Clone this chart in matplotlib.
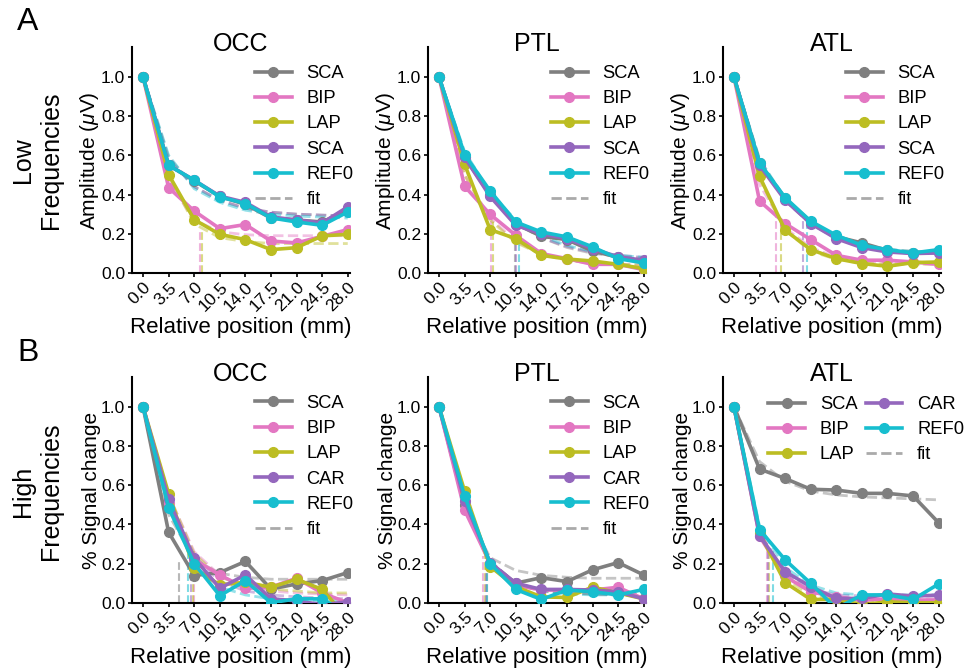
import numpy as np
import matplotlib
matplotlib.use("Agg")
import matplotlib.pyplot as plt

plt.rcParams['font.family'] = ['Liberation Sans', 'DejaVu Sans']
plt.rcParams['mathtext.fontset'] = 'custom'
plt.rcParams['mathtext.rm'] = 'Liberation Sans'
plt.rcParams['mathtext.it'] = 'Liberation Sans:italic'

positions = [0.0, 3.5, 7.0, 10.5, 14.0, 17.5, 21.0, 24.5, 28.0]
tick_labels = ["0.0", "3.5", "7.0", "10.5", "14.0", "17.5", "21.0", "24.5", "28.0"]
regions = ["OCC", "PTL", "ATL"]
labels_low = ["SCA", "BIP", "LAP", "SCA", "REF0"]
labels_high = ["SCA", "BIP", "LAP", "CAR", "REF0"]
colors = ["#7f7f7f", "#e377c2", "#bcbd22", "#9467bd", "#17becf"]

# rows: SCA, BIP, LAP, SCA/CAR, REF0
occ_low = [[1, 0.55, 0.47, 0.39, 0.35, 0.28, 0.27, 0.26, 0.32],
           [1, 0.435, 0.316, 0.226, 0.247, 0.163, 0.153, 0.187, 0.221],
           [1, 0.502, 0.272, 0.197, 0.17, 0.119, 0.129, 0.189, 0.197],
           [1, 0.55, 0.473, 0.392, 0.36, 0.286, 0.27, 0.255, 0.337],
           [1, 0.549, 0.473, 0.388, 0.354, 0.281, 0.26, 0.243, 0.311]]
occ_low_fit = [[1, 0.59, 0.44, 0.37, 0.33, 0.31, 0.30, 0.295, 0.29],
               [1, 0.47, 0.27, 0.21, 0.195, 0.19, 0.19, 0.19, 0.19],
               [1, 0.50, 0.25, 0.18, 0.16, 0.15, 0.15, 0.15, 0.15],
               [1, 0.58, 0.44, 0.37, 0.33, 0.31, 0.30, 0.295, 0.29],
               [1, 0.60, 0.43, 0.36, 0.32, 0.30, 0.29, 0.285, 0.28]]
occ_low_vx = [np.nan, 7.85, 8.1, np.nan, np.nan]
occ_low_vtop = [0, 0.22, 0.21, 0, 0]

ptl_low = [[1, 0.59, 0.40, 0.25, 0.187, 0.17, 0.112, 0.08, 0.06],
           [1, 0.442, 0.299, 0.192, 0.099, 0.073, 0.044, 0.044, 0.017],
           [1, 0.554, 0.221, 0.175, 0.09, 0.071, 0.061, 0.044, 0.022],
           [1, 0.59, 0.39, 0.243, 0.2, 0.175, 0.124, 0.082, 0.065],
           [1, 0.604, 0.418, 0.26, 0.209, 0.184, 0.133, 0.073, 0.051]]
ptl_low_fit = [[1, 0.61, 0.39, 0.26, 0.18, 0.13, 0.10, 0.085, 0.075],
               [1, 0.50, 0.28, 0.16, 0.10, 0.065, 0.05, 0.045, 0.04],
               [1, 0.50, 0.27, 0.155, 0.095, 0.065, 0.05, 0.045, 0.04],
               [1, 0.60, 0.39, 0.255, 0.18, 0.135, 0.105, 0.09, 0.08],
               [1, 0.62, 0.41, 0.27, 0.19, 0.14, 0.11, 0.09, 0.08]]
ptl_low_vx = [10.4, 7.1, 7.35, 10.6, 11.0]
ptl_low_vtop = [0.24, 0.28, 0.26, 0.245, 0.24]

atl_low = [[1, 0.56, 0.38, 0.26, 0.185, 0.153, 0.115, 0.10, 0.11],
           [1, 0.367, 0.252, 0.17, 0.09, 0.065, 0.065, 0.056, 0.044],
           [1, 0.493, 0.218, 0.119, 0.073, 0.048, 0.034, 0.053, 0.056],
           [1, 0.549, 0.371, 0.252, 0.175, 0.129, 0.107, 0.099, 0.102],
           [1, 0.561, 0.384, 0.264, 0.192, 0.141, 0.119, 0.102, 0.119]]
atl_low_fit = [[1, 0.58, 0.37, 0.25, 0.18, 0.14, 0.12, 0.11, 0.105],
               [1, 0.45, 0.23, 0.13, 0.08, 0.06, 0.05, 0.045, 0.045],
               [1, 0.48, 0.22, 0.11, 0.07, 0.05, 0.045, 0.045, 0.045],
               [1, 0.57, 0.37, 0.25, 0.175, 0.135, 0.115, 0.105, 0.10],
               [1, 0.58, 0.38, 0.26, 0.185, 0.14, 0.12, 0.11, 0.105]]
atl_low_vx = [np.nan, 5.8, 6.4, 9.5, 10.0]
atl_low_vtop = [0, 0.29, 0.27, 0.27, 0.265]

occ_high = [[1, 0.36, 0.139, 0.154, 0.211, 0.07, 0.096, 0.113, 0.154],
            [1, 0.51, 0.22, 0.142, 0.074, 0.08, 0.125, 0.05, 0.0],
            [1, 0.556, 0.176, 0.091, 0.105, 0.079, 0.12, 0.068, -0.08],
            [1, 0.527, 0.228, 0.074, 0.142, 0.02, 0.01, -0.01, 0.005],
            [1, 0.485, 0.20, 0.036, 0.113, 0.0, 0.02, 0.02, -0.06]]
occ_high_fit = [[1, 0.45, 0.22, 0.15, 0.13, 0.12, 0.12, 0.12, 0.12],
                [1, 0.55, 0.26, 0.14, 0.08, 0.06, 0.05, 0.045, 0.04],
                [1, 0.55, 0.25, 0.13, 0.09, 0.07, 0.06, 0.05, 0.05],
                [1, 0.52, 0.24, 0.11, 0.06, 0.04, 0.03, 0.025, 0.02],
                [1, 0.50, 0.21, 0.08, 0.04, 0.02, 0.015, 0.01, 0.01]]
occ_high_vx = [4.9, 7.0, 6.8, 6.5, 6.2]
occ_high_vtop = [0.22, 0.28, 0.27, 0.26, 0.25]

ptl_high = [[1, 0.50, 0.20, 0.10, 0.128, 0.108, 0.168, 0.205, 0.142],
            [1, 0.473, 0.20, 0.09, 0.065, 0.065, 0.065, 0.079, 0.02],
            [1, 0.57, 0.185, 0.082, 0.03, 0.027, 0.08, 0.05, 0.02],
            [1, 0.52, 0.205, 0.10, 0.068, 0.068, 0.065, 0.056, 0.02],
            [1, 0.545, 0.20, 0.068, 0.017, 0.065, 0.056, 0.04, 0.068]]
ptl_high_fit = [[1, 0.48, 0.23, 0.165, 0.14, 0.13, 0.125, 0.125, 0.125],
                [1, 0.48, 0.21, 0.10, 0.065, 0.05, 0.045, 0.04, 0.04],
                [1, 0.51, 0.21, 0.10, 0.06, 0.05, 0.045, 0.04, 0.04],
                [1, 0.50, 0.21, 0.10, 0.065, 0.05, 0.045, 0.04, 0.04],
                [1, 0.51, 0.21, 0.095, 0.06, 0.045, 0.04, 0.04, 0.04]]
ptl_high_vx = [6.6, 6.0, 6.3, 6.4, 6.5]
ptl_high_vtop = [0.25, 0.24, 0.24, 0.24, 0.24]

atl_high = [[1, 0.682, 0.634, 0.579, 0.575, 0.558, 0.558, 0.545, 0.408],
            [1, 0.339, 0.134, 0.056, 0.03, 0.014, 0.02, 0.014, 0.014],
            [1, 0.356, 0.103, 0.017, 0.017, -0.01, 0.005, 0.0, 0.0],
            [1, 0.342, 0.159, 0.082, 0.022, 0.022, 0.045, 0.034, 0.039],
            [1, 0.373, 0.219, 0.099, -0.03, 0.04, 0.04, 0.017, 0.096]]
atl_high_fit = [[1, 0.72, 0.62, 0.57, 0.55, 0.54, 0.535, 0.53, 0.525],
                [1, 0.36, 0.14, 0.06, 0.03, 0.02, 0.02, 0.02, 0.02],
                [1, 0.36, 0.12, 0.04, 0.015, 0.01, 0.01, 0.01, 0.01],
                [1, 0.36, 0.15, 0.07, 0.04, 0.035, 0.035, 0.035, 0.035],
                [1, 0.39, 0.18, 0.09, 0.05, 0.04, 0.04, 0.04, 0.04]]
atl_high_vx = [np.nan, 4.5, 4.8, 4.6, 5.4]
atl_high_vtop = [0, 0.28, 0.27, 0.28, 0.27]

panels = [
    [(occ_low, occ_low_fit, occ_low_vx, occ_low_vtop),
     (ptl_low, ptl_low_fit, ptl_low_vx, ptl_low_vtop),
     (atl_low, atl_low_fit, atl_low_vx, atl_low_vtop)],
    [(occ_high, occ_high_fit, occ_high_vx, occ_high_vtop),
     (ptl_high, ptl_high_fit, ptl_high_vx, ptl_high_vtop),
     (atl_high, atl_high_fit, atl_high_vx, atl_high_vtop)],
]

fig = plt.figure(figsize=(9.64, 6.69), dpi=100)

lefts = [0.137, 0.444, 0.750]
bottoms = [0.592, 0.099]
w, h = 0.226, 0.337

for r in range(2):
    for c in range(3):
        ax = fig.add_axes([lefts[c], bottoms[r], w, h])
        data, fits, vx, vtop = panels[r][c]
        labels = labels_low if r == 0 else labels_high
        for i in range(5):
            ax.plot(positions, fits[i], ls="--", lw=2, color=colors[i], alpha=0.45, zorder=1)
            if not np.isnan(vx[i]):
                ax.plot([vx[i], vx[i]], [0, vtop[i]], ls="--", lw=1.5, color=colors[i], alpha=0.55, zorder=1)
        for i in range(5):
            ax.plot(positions, data[i], marker="o", ms=7, lw=2.6, color=colors[i],
                    label=labels[i], zorder=2 + i)
        ax.plot([], [], ls="--", lw=2, color="#aaaaaa", label="fit")

        ax.set_xlim(-1.5, 28.3)
        ax.set_ylim(0, 1.15)
        ax.set_xticks(positions)
        ax.set_xticklabels(tick_labels, rotation=45, ha="right", rotation_mode="anchor")
        ax.set_yticks([0, 0.2, 0.4, 0.6, 0.8, 1.0])
        ax.set_yticklabels(["0.0", "0.2", "0.4", "0.6", "0.8", "1.0"])
        ax.tick_params(labelsize=12.5, length=3, width=1.2, pad=2)
        ax.spines['top'].set_visible(False)
        ax.spines['right'].set_visible(False)
        ax.spines['left'].set_linewidth(1.5)
        ax.spines['bottom'].set_linewidth(1.5)
        ax.set_xlabel("Relative position (mm)", fontsize=16, labelpad=2)
        if r == 0:
            ax.set_ylabel(r"Amplitude ($\mu$V)", fontsize=15, labelpad=0)
        else:
            ax.set_ylabel("% Signal change", fontsize=15, labelpad=0)
        ax.text(0.5, 0.985, regions[c], transform=ax.transAxes, ha="center",
                va="baseline", fontsize=18)

        if r == 1 and c == 2:
            ax.legend(loc="upper right", bbox_to_anchor=(1.14, 0.95), ncol=2,
                      frameon=False, fontsize=13.2, handlelength=2.0,
                      handletextpad=0.8, labelspacing=0.45, columnspacing=0.45,
                      borderaxespad=0)
        else:
            ax.legend(loc="upper right", bbox_to_anchor=(1.05, 0.955),
                      frameon=False, fontsize=13.2, handlelength=2.0,
                      handletextpad=0.8, labelspacing=0.45, borderaxespad=0)

fig.text(0.018, 0.967, "A", fontsize=23, va="center")
fig.text(0.018, 0.472, "B", fontsize=23, va="center")
fig.text(0.038, 0.760, "Low\nFrequencies", rotation=90, fontsize=18,
         ha="center", va="center", multialignment="center")
fig.text(0.038, 0.265, "High\nFrequencies", rotation=90, fontsize=18,
         ha="center", va="center", multialignment="center")

fig.savefig("out.png", dpi=100)
